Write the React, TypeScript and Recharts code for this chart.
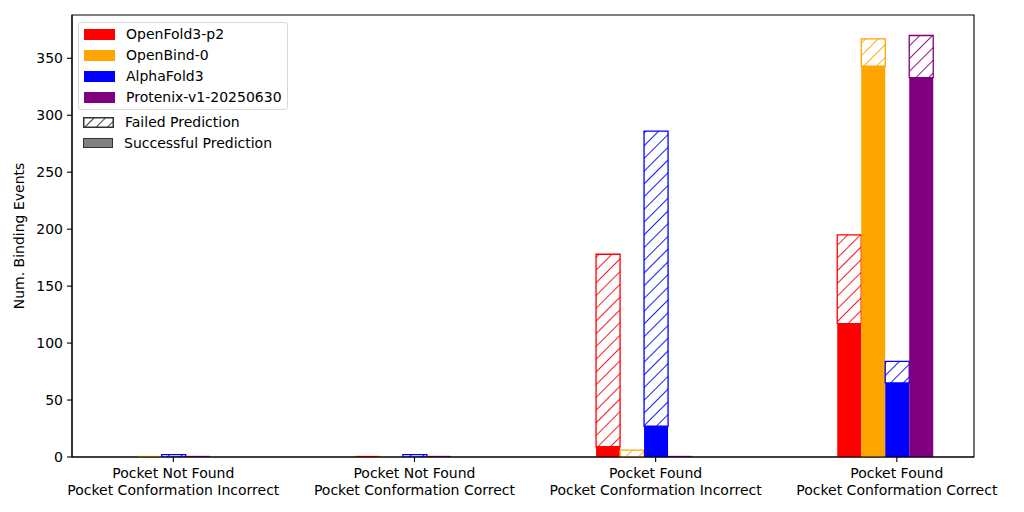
import { BarChart, Bar, XAxis, YAxis, Legend, Label, ReferenceArea } from "recharts"

// categories (two-line tick labels)
const categoryTop = ["Pocket Not Found", "Pocket Not Found", "Pocket Found", "Pocket Found"]
const categoryBottom = [
  "Pocket Conformation Incorrect",
  "Pocket Conformation Correct",
  "Pocket Conformation Incorrect",
  "Pocket Conformation Correct",
]

const models = ["OpenFold3-p2", "OpenBind-0", "AlphaFold3", "Protenix-v1-20250630"]
const modelKeys = ["of3", "ob0", "af3", "ptx"]
const modelColors = ["#ff0000", "#ffa500", "#0000ff", "#800080"]

// successful / failed counts per category
const of3Success = [0, 1, 9, 117]
const of3Failed = [0, 0, 169, 78]
const ob0Success = [1, 0, 0, 343]
const ob0Failed = [0, 0, 6, 24]
const af3Success = [0, 0, 27, 65]
const af3Failed = [2, 2, 259, 19]
const ptxSuccess = [1, 1, 1, 333]
const ptxFailed = [0, 0, 0, 37]

const yTicks = [0, 50, 100, 150, 200, 250, 300, 350]
const xTicks = [0, 1, 2, 3]
const xDomain = [-0.42, 3.32]
const yDomain = [0, 388]

const successSeries = [of3Success, ob0Success, af3Success, ptxSuccess]
const failedSeries = [of3Failed, ob0Failed, af3Failed, ptxFailed]

const data = categoryTop.map((_, i) => {
  const row: Record<string, number> = { x: i, pad: 0 }
  modelKeys.forEach((k, m) => {
    row[`${k}_s`] = successSeries[m][i]
    row[`${k}_f`] = failedSeries[m][i]
  })
  return row
})

const FONT = "'DejaVu Sans', sans-serif"
const FS = 14

const XTick = (props: any) => {
  const { x, y, payload } = props
  const i = payload.value
  return (
    <text x={x} y={y} textAnchor="middle" fontFamily={FONT} fontSize={FS} fill="#000">
      <tspan x={x} dy={14}>{categoryTop[i]}</tspan>
      <tspan x={x} dy={16.6}>{categoryBottom[i]}</tspan>
    </text>
  )
}

const HatchSwatch = () => (
  <svg width={31} height={11} style={{ display: "block" }}>
    <defs>
      <pattern id="lg-hatch" width={8} height={8} patternUnits="userSpaceOnUse" patternTransform="rotate(45)">
        <line x1={0} y1={0} x2={0} y2={8} stroke="#000" strokeWidth={1.5} />
      </pattern>
    </defs>
    <rect x={0.75} y={0.75} width={29.5} height={9.5} fill="url(#lg-hatch)" stroke="#333" strokeWidth={1.5} />
  </svg>
)

const LegendBox = () => {
  const row = (top: number, swatch: any, text: string) => (
    <div key={text} style={{ position: "absolute", left: 5, top, display: "flex", alignItems: "center", height: 14 }}>
      {swatch}
      <span style={{ marginLeft: 11, fontSize: FS, fontFamily: FONT, color: "#000", whiteSpace: "nowrap" }}>{text}</span>
    </div>
  )
  return (
    <div style={{ position: "relative", width: 1024, height: 512 }}>
      <div
        style={{
          position: "absolute",
          left: 78,
          top: 22,
          width: 208,
          height: 86,
          border: "1px solid #d9d9d9",
          borderRadius: 3,
          background: "rgba(255,255,255,0.8)",
        }}
      >
        {models.map((name, m) =>
          row(4 + m * 21, <div style={{ width: 31, height: 11, background: modelColors[m] }} />, name)
        )}
      </div>
      <div style={{ position: "absolute", left: 78, top: 108 }}>
        {row(7, <HatchSwatch />, "Failed Prediction")}
        {row(28, <div style={{ width: 28, height: 8, background: "#808080", border: "1.5px solid #333" }} />, "Successful Prediction")}
      </div>
    </div>
  )
}

export default function App() {
  return (
    <div style={{ position: "absolute", left: 0, top: 0, background: "#fff" }}>
      <BarChart
        width={1024}
        height={512}
        data={data}
        margin={{ top: 15, right: 50, bottom: 0, left: 0 }}
        barGap={0}
        barSize={24}
      >
        <defs>
          {modelColors.map((c, m) => (
            <pattern
              key={c}
              id={`hatch-${m}`}
              width={9}
              height={9}
              patternUnits="userSpaceOnUse"
              patternTransform="rotate(45)"
            >
              <rect width={9} height={9} fill="#fff" />
              <line x1={0} y1={0} x2={0} y2={9} stroke={c} strokeWidth={1.8} />
            </pattern>
          ))}
        </defs>
        <XAxis
          dataKey="x"
          type="number"
          domain={xDomain}
          ticks={xTicks}
          allowDataOverflow
          height={55}
          tickSize={5}
          tickMargin={2}
          interval={0}
          tick={<XTick />}
          axisLine={{ stroke: "#000", strokeWidth: 1.1 }}
          tickLine={{ stroke: "#000", strokeWidth: 1.1 }}
        />
        <YAxis
          type="number"
          domain={yDomain}
          ticks={yTicks}
          allowDataOverflow
          width={72}
          tickSize={5}
          tickMargin={4}
          tick={{ fontSize: FS, fontFamily: FONT, fill: "#000" }}
          axisLine={{ stroke: "#000", strokeWidth: 1.1 }}
          tickLine={{ stroke: "#000", strokeWidth: 1.1 }}
        >
          <Label
            content={() => (
              <text
                x={20}
                y={236}
                transform="rotate(-90 20 236)"
                textAnchor="middle"
                dominantBaseline="middle"
                fontFamily={FONT}
                fontSize={FS}
                fill="#000"
              >
                Num. Binding Events
              </text>
            )}
          />
        </YAxis>
        {modelKeys.map((k, m) => [
          <Bar
            key={`${k}_s`}
            dataKey={`${k}_s`}
            stackId={k}
            fill={modelColors[m]}
            isAnimationActive={false}
          />,
          <Bar
            key={`${k}_f`}
            dataKey={`${k}_f`}
            stackId={k}
            fill={`url(#hatch-${m})`}
            stroke={modelColors[m]}
            strokeWidth={1.3}
            isAnimationActive={false}
          />,
        ])}
        <Bar dataKey="pad" stackId="pad" fill="none" legendType="none" isAnimationActive={false} />
        <ReferenceArea
          x1={xDomain[0]}
          x2={xDomain[1]}
          y1={yDomain[0]}
          y2={yDomain[1]}
          fill="none"
          stroke="#000"
          strokeWidth={1.1}
          fillOpacity={0}
          strokeOpacity={1}
          ifOverflow="visible"
        />
        <Legend
          layout="horizontal"
          verticalAlign="middle"
          align="center"
          wrapperStyle={{ left: 0, top: 0, width: 1024, height: 512, pointerEvents: "none" }}
          content={() => <LegendBox />}
        />
      </BarChart>
    </div>
  )
}
